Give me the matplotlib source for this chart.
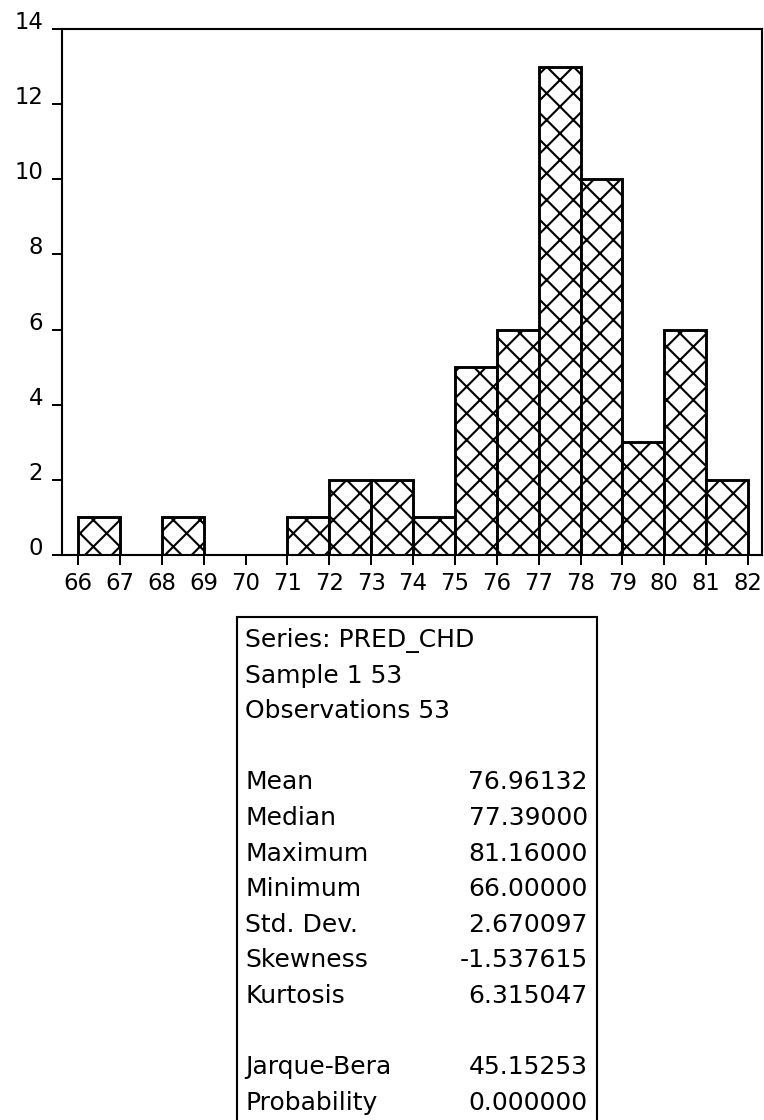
import matplotlib
matplotlib.use("Agg")
import matplotlib.pyplot as plt
from matplotlib.patches import Rectangle

# ---- data ----
bin_lefts = [66, 67, 68, 69, 70, 71, 72, 73, 74, 75, 76, 77, 78, 79, 80, 81]
counts = [1, 0, 1, 0, 0, 1, 2, 2, 1, 5, 6, 13, 10, 3, 6, 2]
x_ticks = [66, 67, 68, 69, 70, 71, 72, 73, 74, 75, 76, 77, 78, 79, 80, 81, 82]
y_ticks = [0, 2, 4, 6, 8, 10, 12, 14]

header_lines = ["Series: PRED_CHD", "Sample 1 53", "Observations 53"]
stat_names = ["Mean", "Median", "Maximum", "Minimum", "Std. Dev.", "Skewness", "Kurtosis"]
stat_values = ["76.96132", "77.39000", "81.16000", "66.00000", "2.670097", "-1.537615", "6.315047"]
test_names = ["Jarque-Bera", "Probability"]
test_values = ["45.15253", "0.000000"]

# ---- style ----
W, H, DPI = 764, 1120, 80
plt.rcParams['font.family'] = ['DejaVu Sans']
plt.rcParams['hatch.linewidth'] = 1.9
plt.rcParams['hatch.color'] = 'black'
TICK_FS = 20.5
TEXT_FS = 22.5

fig = plt.figure(figsize=(9.55, 14.0), dpi=DPI)
fig.patch.set_facecolor('white')

ax = fig.add_axes([62 / W, 1 - 555 / H, 700 / W, 526 / H])
bars = [(l, c) for l, c in zip(bin_lefts, counts) if c > 0]
ax.bar([b[0] for b in bars], [b[1] for b in bars], width=1.0, align='edge',
       facecolor='white', edgecolor='black', linewidth=2.6, hatch='x')

ax.set_xlim(65.618, 82.334)
ax.set_ylim(0, 14)
ax.set_xticks(x_ticks)
ax.set_xticklabels([str(v) for v in x_ticks])
ax.set_yticks(y_ticks)
ax.set_yticklabels([str(v) for v in y_ticks])
for lab in ax.get_yticklabels():
    lab.set_verticalalignment('baseline')
ax.tick_params(axis='both', direction='out', length=9, width=1.8,
               labelsize=TICK_FS, colors='black')
ax.tick_params(axis='y', pad=8)
ax.tick_params(axis='x', pad=6.5)
for sp in ax.spines.values():
    sp.set_linewidth(1.9)
    sp.set_color('black')

# ---- stats box ----
def fx(px):
    return px / W

def fy(py):
    return 1 - py / H

box = Rectangle((fx(237), fy(1130)), fx(597) - fx(237), fy(617) - fy(1130),
                transform=fig.transFigure, facecolor='white', edgecolor='black',
                linewidth=1.9, clip_on=False)
fig.add_artist(box)

BASE, STEP = 647, 35.6
xl, xr = 245, 588
row = 0
for t in header_lines:
    fig.text(fx(xl), fy(BASE + STEP * row), t, fontsize=TEXT_FS, va='baseline', ha='left')
    row += 1
row += 1
for n, v in zip(stat_names, stat_values):
    y = fy(BASE + STEP * row)
    fig.text(fx(xl), y, n, fontsize=TEXT_FS, va='baseline', ha='left')
    fig.text(fx(xr), y, v, fontsize=TEXT_FS, va='baseline', ha='right')
    row += 1
row += 1
for n, v in zip(test_names, test_values):
    y = fy(BASE + STEP * row)
    fig.text(fx(xl), y, n, fontsize=TEXT_FS, va='baseline', ha='left')
    fig.text(fx(xr), y, v, fontsize=TEXT_FS, va='baseline', ha='right')
    row += 1

fig.savefig('out.png', dpi=DPI, facecolor='white')
